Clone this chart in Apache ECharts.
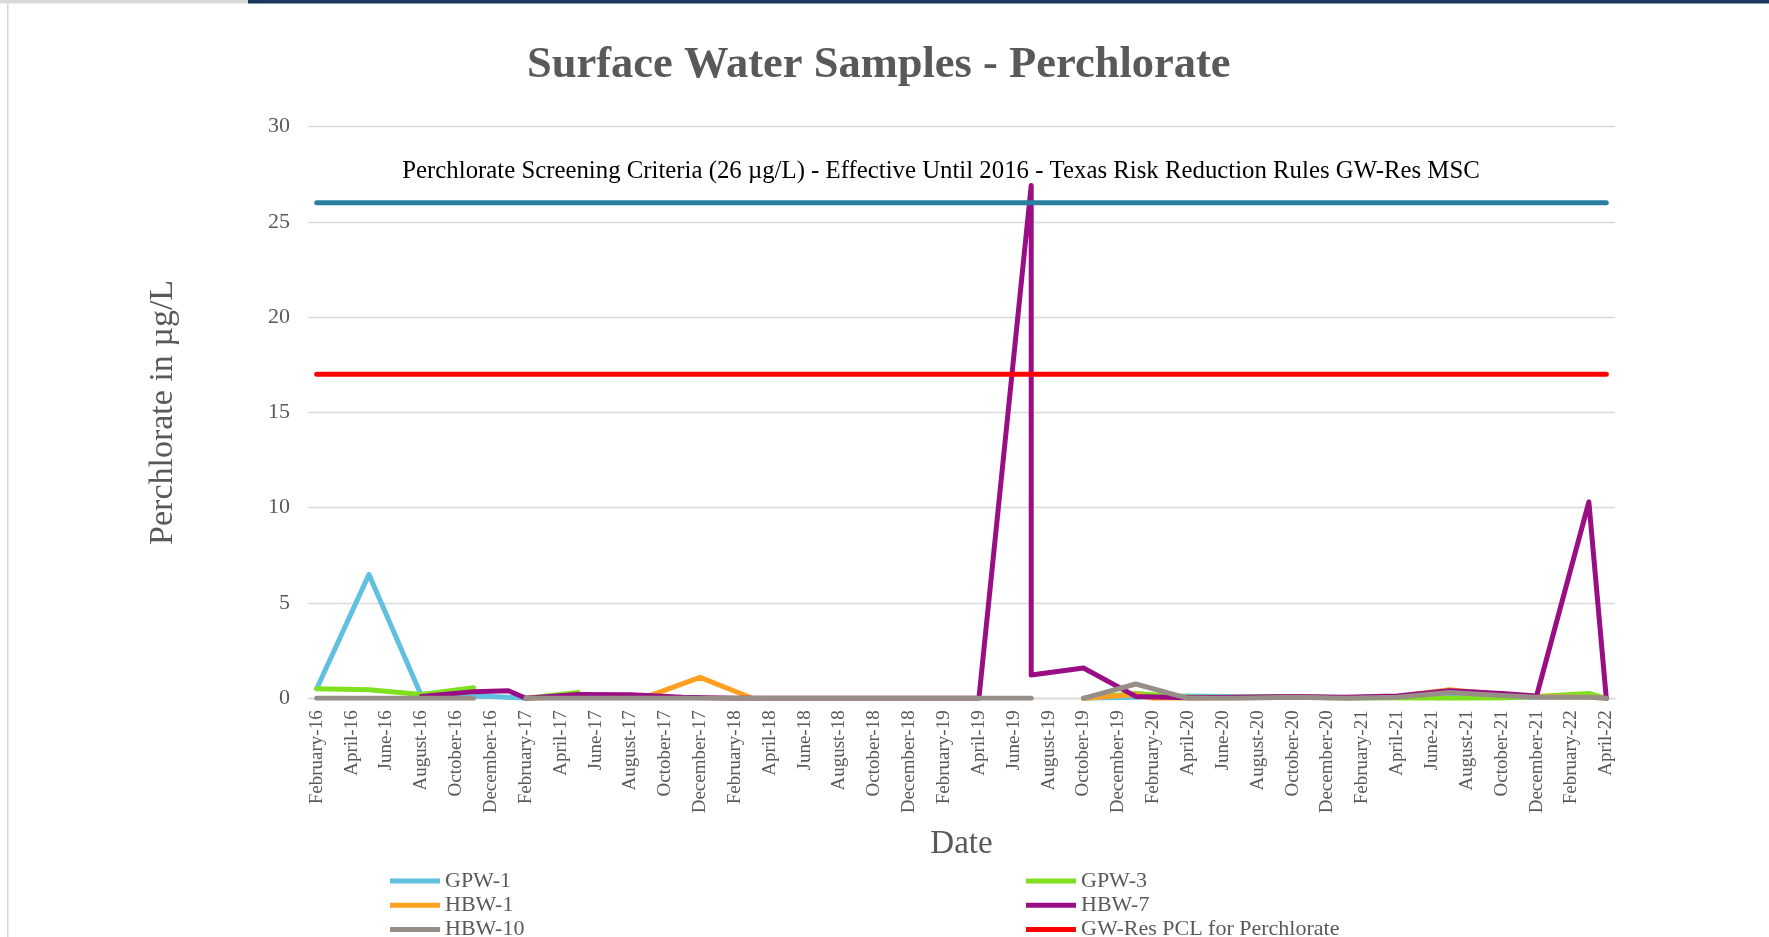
<!DOCTYPE html>
<html>
<head>
<meta charset="utf-8">
<script src="https://cdn.jsdelivr.net/npm/echarts@6/dist/echarts.min.js"></script>
<style>
html,body{margin:0;padding:0;background:#fff;}
#chart{width:1769px;height:937px;}
</style>
</head>
<body>
<div id="chart"></div>
<script>
// Monthly category axis (labels shown every other month)
const categories = [
'February-16','March-16','April-16','May-16','June-16','July-16','August-16','September-16','October-16','November-16','December-16',
'January-17','February-17','March-17','April-17','May-17','June-17','July-17','August-17','September-17','October-17','November-17','December-17',
'January-18','February-18','March-18','April-18','May-18','June-18','July-18','August-18','September-18','October-18','November-18','December-18',
'January-19','February-19','March-19','April-19','May-19','June-19','July-19','August-19','September-19','October-19','November-19','December-19',
'January-20','February-20','March-20','April-20','May-20','June-20','July-20','August-20','September-20','October-20','November-20','December-20',
'January-21','February-21','March-21','April-21','May-21','June-21','July-21','August-21','September-21','October-21','November-21','December-21',
'January-22','February-22','March-22','April-22'
];

const yTicks = [0, 5, 10, 15, 20, 25, 30];

// GPW-1
const gpw1Dates  = ['February-16','May-16','August-16','October-16','December-16','February-17','March-17','October-19','January-20','April-20','July-20','October-20','January-21','April-21','July-21','October-21','December-21','March-22','April-22'];
const gpw1Values = [0.5, 6.5, 0.15, 0.12, 0.1, 0, null, 0, 0.05, 0.12, 0.08, 0.05, 0.02, 0.05, 0.08, 0.05, 0.05, 0.1, 0];

// GPW-3
const gpw3Dates  = ['February-16','May-16','August-16','November-16','December-16','February-17','May-17','June-17','October-19','January-20','April-20','July-20','October-20','January-21','April-21','July-21','October-21','December-21','March-22','April-22'];
const gpw3Values = [0.5, 0.45, 0.2, 0.55, null, 0, 0.3, null, 0, 0.25, 0.05, 0.05, 0.1, 0.02, 0.02, 0, 0.02, 0.1, 0.25, 0];

// HBW-1
const hbw1Dates  = ['February-17','May-17','September-17','December-17','March-18','April-18','October-19','January-20','February-20','July-20','October-20','January-21','April-21','July-21','October-21','December-21','March-22','April-22'];
const hbw1Values = [0, 0.1, 0.1, 1.1, 0, null, 0, 0.2, 0, 0.03, 0.05, 0.03, 0.1, 0.45, 0.2, 0.1, 0.05, 0];

// HBW-7 (two samples in July-19)
const hbw7Dates  = ['August-16','November-16','January-17','February-17','May-17','August-17','November-17','February-18','May-18','August-18','November-18','February-19','April-19','July-19','July-19','October-19','January-20','April-20','July-20','October-20','January-21','April-21','July-21','October-21','December-21','March-22','April-22'];
const hbw7Values = [0.1, 0.35, 0.4, 0, 0.2, 0.18, 0.05, 0, 0, 0, 0, 0, 0, 26.9, 1.22, 1.59, 0.1, 0.03, 0.05, 0.1, 0.05, 0.12, 0.4, 0.25, 0.12, 10.3, 0];

// HBW-10
const hbw10Dates  = ['February-16','May-16','August-16','November-16','December-16','February-17','May-17','August-17','November-17','February-18','May-18','August-18','November-18','February-19','May-19','July-19','August-19','October-19','January-20','April-20','July-20','October-20','January-21','April-21','July-21','October-21','December-21','March-22','April-22'];
const hbw10Values = [0, 0, 0, 0, null, 0, 0, 0, 0, 0, 0, 0, 0, 0, 0, 0, null, 0, 0.75, 0, 0, 0.05, 0, 0.05, 0.3, 0.15, 0.05, 0.05, 0];

// Reference levels
const pclDates = ['February-16', 'April-22'];
const pclValues = [17, 17];
const mscDates = ['February-16', 'April-22'];
const mscValues = [26, 26];

const serif = '"Liberation Serif", "Times New Roman", serif';
const grey = '#595959';

function pairs(dates, values) {
  return dates.map((d, i) => [d, values[i] === null ? '-' : values[i]]);
}
function lineSeries(name, dates, values, color) {
  return {
    name: name,
    type: 'line',
    data: pairs(dates, values),
    symbol: 'none',
    showSymbol: false,
    connectNulls: false,
    lineStyle: { color: color, width: 5, cap: 'round', join: 'round' },
    itemStyle: { color: color },
    emphasis: { disabled: true }
  };
}

const chart = echarts.init(document.getElementById('chart'), null, { renderer: 'canvas' });

const legendText = { fontFamily: serif, fontSize: 22, color: grey, lineHeight: 22 };

chart.setOption({
  animation: false,
  backgroundColor: '#ffffff',
  title: {
    text: 'Surface Water Samples - Perchlorate',
    left: 527,
    top: 43,
    padding: 0,
    textStyle: { fontFamily: serif, fontWeight: 'bold', fontSize: 44.5, color: grey }
  },
  grid: { left: 308, right: 154, top: 126.5, bottom: 238.7, containLabel: false },
  legend: [
    {
      left: 385, top: 865, height: 120, orient: 'vertical', icon: 'rect',
      itemWidth: 50, itemHeight: 5, itemGap: 2.2,
      data: ['GPW-1', 'HBW-1', 'HBW-10'],
      textStyle: legendText
    },
    {
      left: 1021, top: 865, height: 120, orient: 'vertical', icon: 'rect',
      itemWidth: 50, itemHeight: 5, itemGap: 2.2,
      data: ['GPW-3', 'HBW-7', 'GW-Res PCL for Perchlorate'],
      textStyle: legendText
    }
  ],
  xAxis: {
    type: 'category',
    data: categories,
    boundaryGap: true,
    axisLine: { show: true, lineStyle: { color: '#D9D9D9', width: 1.3 } },
    axisTick: { show: false },
    axisLabel: {
      interval: 1, rotate: 90, margin: 12,
      fontFamily: serif, fontSize: 19, color: grey
    },
    splitLine: { show: false },
    name: 'Date',
    nameLocation: 'middle',
    nameGap: 130,
    nameTextStyle: { fontFamily: serif, fontSize: 33, color: grey }
  },
  yAxis: {
    type: 'value',
    min: yTicks[0],
    max: yTicks[yTicks.length - 1],
    interval: 5,
    axisLine: { show: false },
    axisTick: { show: false },
    axisLabel: { margin: 18, fontFamily: serif, fontSize: 22, color: grey },
    splitLine: { lineStyle: { color: '#D9D9D9', width: 1.3 } },
    name: 'Perchlorate in \u00b5g/L',
    nameLocation: 'middle',
    nameGap: 128,
    nameTextStyle: { fontFamily: serif, fontSize: 34, color: grey }
  },
  series: [
    lineSeries('GPW-1', gpw1Dates, gpw1Values, '#61C0E0'),
    lineSeries('GPW-3', gpw3Dates, gpw3Values, '#7EE01E'),
    lineSeries('HBW-1', hbw1Dates, hbw1Values, '#FFA020'),
    lineSeries('HBW-7', hbw7Dates, hbw7Values, '#990D85'),
    lineSeries('HBW-10', hbw10Dates, hbw10Values, '#978F87'),
    lineSeries('GW-Res PCL for Perchlorate', pclDates, pclValues, '#FF0000'),
    lineSeries('Perchlorate Screening Criteria (26 \u00b5g/L)', mscDates, mscValues, '#2A7FA1')
  ],
  graphic: [
    { type: 'rect', shape: { x: 0, y: 0, width: 248, height: 3.5 }, style: { fill: '#D9D9D9' }, silent: true },
    { type: 'rect', shape: { x: 248, y: 0, width: 1521, height: 3.5 }, style: { fill: '#17375E' }, silent: true },
    { type: 'rect', shape: { x: 7, y: 3.5, width: 1.5, height: 934 }, style: { fill: '#D6D6D6' }, silent: true },
    {
      type: 'text', x: 941, y: 171, silent: true,
      style: {
        text: 'Perchlorate Screening Criteria (26 \u00b5g/L) - Effective Until 2016 - Texas Risk Reduction Rules GW-Res MSC',
        fontFamily: serif, fontSize: 24.8, fill: '#000000',
        align: 'center', verticalAlign: 'middle'
      }
    }
  ]
});
</script>
</body>
</html>
